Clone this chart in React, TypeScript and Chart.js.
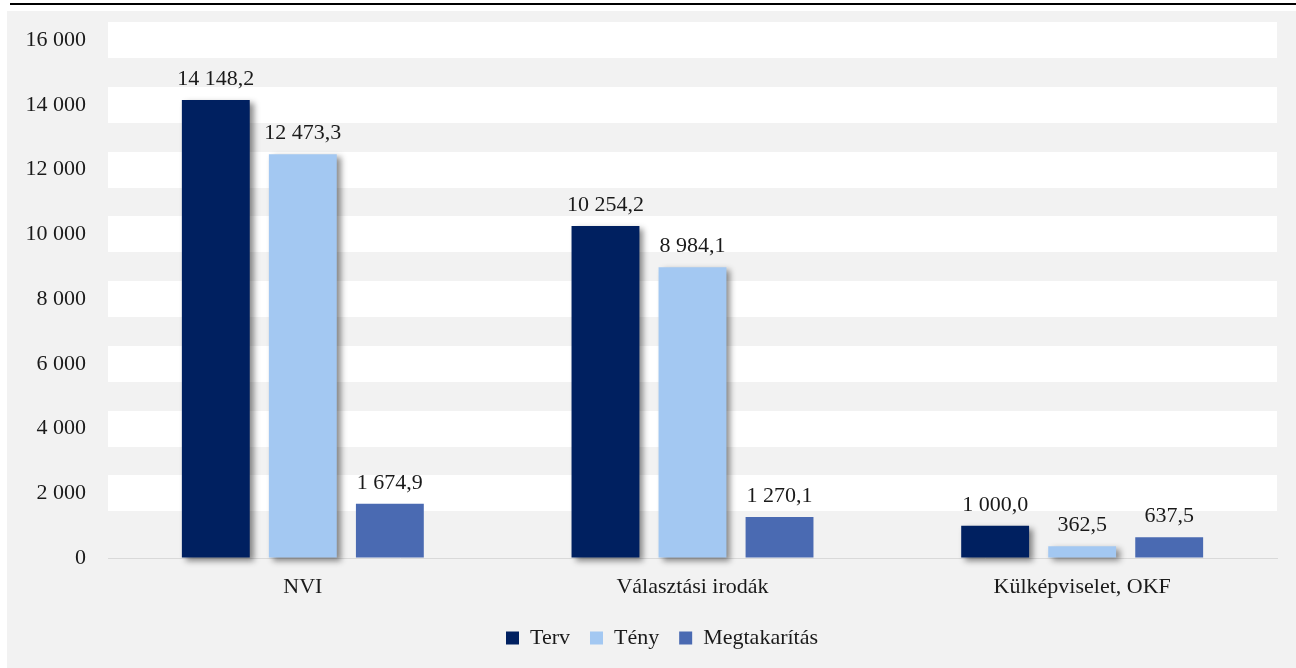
import React, { useEffect, useRef } from "react";
import { Chart, registerables } from "chart.js";

Chart.register(...registerables);

const categories = ["NVI", "Választási irodák", "Külképviselet, OKF"];
const seriesNames = ["Terv", "Tény", "Megtakarítás"];
const tervValues = [14148.2, 10254.2, 1000.0];
const tenyValues = [12473.3, 8984.1, 362.5];
const megtakaritasValues = [1674.9, 1270.1, 637.5];
const yMin = 0;
const yMax = 16000;
const yStep = 2000;

const seriesColors = ["#002060", "#a3c8f2", "#4a6ab2"];
const FONT = "'Liberation Serif', 'Times New Roman', serif";
const TEXT = "#1a1a1a";
const LEGEND_SHIFT = 14;

const groupThousands = (s: string) => s.replace(/\B(?=(\d{3})+(?!\d))/g, " ");
const fmtTick = (v: number) => groupThousands(String(Math.round(v)));
const fmtValue = (v: number) => {
  const [i, d] = v.toFixed(1).split(".");
  return groupThousands(i) + "," + d;
};

const shadowPlugin = {
  id: "barShadow",
  beforeDatasetDraw(chart: any, args: any) {
    const ctx = chart.ctx;
    ctx.save();
    if (args.index === 0 || args.index === 1) {
      ctx.shadowColor = "rgba(0,0,0,0.45)";
      ctx.shadowBlur = 6;
      ctx.shadowOffsetX = 4;
      ctx.shadowOffsetY = 3;
    }
  },
  afterDatasetDraw(chart: any) {
    chart.ctx.restore();
  },
};

const legendShiftPlugin = {
  id: "legendShift",
  afterLayout(chart: any) {
    if (chart.legend) {
      chart.legend.left += LEGEND_SHIFT;
      chart.legend.right += LEGEND_SHIFT;
    }
  },
};

const valueLabelPlugin = {
  id: "valueLabels",
  afterDatasetsDraw(chart: any) {
    const ctx = chart.ctx;
    ctx.save();
    ctx.font = `22px ${FONT}`;
    ctx.fillStyle = TEXT;
    ctx.textAlign = "center";
    ctx.textBaseline = "alphabetic";
    chart.data.datasets.forEach((ds: any, di: number) => {
      const meta = chart.getDatasetMeta(di);
      meta.data.forEach((bar: any, i: number) => {
        ctx.fillText(fmtValue(ds.data[i]), bar.x, bar.y - 15);
      });
    });
    ctx.restore();
  },
};

export default function App() {
  const ref = useRef<HTMLCanvasElement | null>(null);

  useEffect(() => {
    if (!ref.current) return;
    const chart = new Chart(ref.current, {
      type: "bar",
      data: {
        labels: categories,
        datasets: [
          { label: seriesNames[0], data: tervValues, backgroundColor: seriesColors[0], clip: false as any },
          { label: seriesNames[1], data: tenyValues, backgroundColor: seriesColors[1], clip: false as any },
          { label: seriesNames[2], data: megtakaritasValues, backgroundColor: seriesColors[2], clip: false as any },
        ],
      },
      options: {
        animation: false,
        responsive: false,
        devicePixelRatio: 1,
        layout: { padding: { left: 12, right: 19, top: 29, bottom: 9 } },
        datasets: {
          bar: { categoryPercentage: 0.67, barPercentage: 0.78 },
        },
        plugins: {
          tooltip: { enabled: false },
          legend: {
            position: "bottom",
            labels: {
              boxWidth: 13,
              boxHeight: 13,
              padding: 20,
              color: TEXT,
              font: { family: FONT, size: 22 },
            },
          },
        },
        scales: {
          x: {
            grid: { display: false, drawTicks: false },
            border: { display: true, color: "#d9d9d9", width: 1 },
            ticks: { color: TEXT, font: { family: FONT, size: 22 }, padding: 16 },
            afterFit: (scale: any) => {
              scale.height = 49;
            },
          },
          y: {
            min: yMin,
            max: yMax,
            ticks: {
              stepSize: yStep,
              color: TEXT,
              padding: 22,
              font: { family: FONT, size: 22 },
              callback: (v: any) => fmtTick(Number(v)),
            },
            border: { display: false },
            grid: {
              drawTicks: false,
              color: (c: any) => (c.tick && c.tick.value === 0 ? "rgba(0,0,0,0)" : "#ffffff"),
              lineWidth: (c: any) => (c.tick && c.tick.value === 0 ? 1 : 36),
            },
            afterFit: (scale: any) => {
              scale.width = 89;
              scale.paddingTop = 13;
              scale.paddingBottom = 13;
            },
          },
        },
      },
      plugins: [shadowPlugin, valueLabelPlugin, legendShiftPlugin],
    });
    return () => chart.destroy();
  }, []);

  return (
    <div style={{ position: "absolute", left: 0, top: 0, width: 1296, height: 668, background: "#ffffff", overflow: "hidden" }}>
      <div style={{ position: "absolute", left: 10, top: 3, width: 1286, height: 2, background: "#000000" }} />
      <div style={{ position: "absolute", left: 7, top: 11, width: 1289, height: 657, background: "#f2f2f2" }}>
        <canvas ref={ref} width={1289} height={657} style={{ display: "block" }} />
      </div>
    </div>
  );
}
